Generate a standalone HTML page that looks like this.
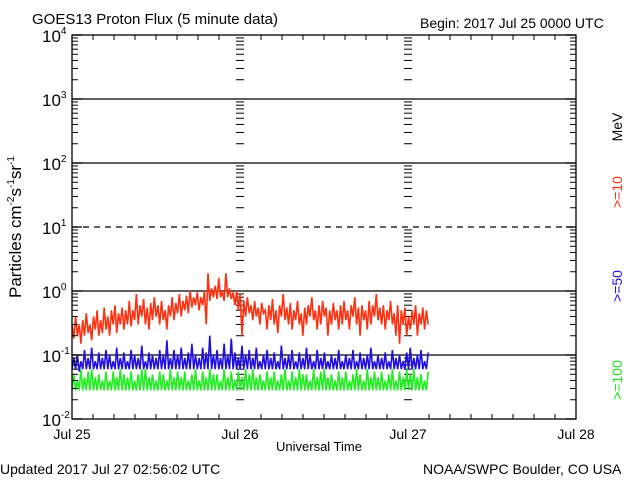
<!DOCTYPE html>
<html><head><meta charset="utf-8">
<style>
html,body{margin:0;padding:0;background:#fff;}
svg{display:block;font-family:"Liberation Sans",sans-serif;}
</style></head>
<body>
<svg id="chart" width="640" height="480" viewBox="0 0 640 480">
<text x="32" y="24" font-size="15">GOES13 Proton Flux (5 minute data)</text>
<text x="420" y="28" font-size="14">Begin: 2017 Jul 25 0000 UTC</text>
<text x="0" y="474" font-size="14">Updated 2017 Jul 27 02:56:02 UTC</text>
<text x="423" y="474" font-size="14">NOAA/SWPC Boulder, CO USA</text>
<text x="276" y="451" font-size="13">Universal Time</text>
<text transform="translate(21,227) rotate(-90)" text-anchor="middle" font-size="17">Particles cm<tspan font-size="10" dy="-7">-2</tspan><tspan dy="7">s</tspan><tspan font-size="10" dy="-7">-1</tspan><tspan dy="7">sr</tspan><tspan font-size="10" dy="-7">-1</tspan></text>
<text transform="translate(622,127) rotate(-90)" text-anchor="middle" font-size="14" fill="#000">MeV</text>
<text transform="translate(622,192) rotate(-90)" text-anchor="middle" font-size="14" fill="#ff3010">&gt;=10</text>
<text transform="translate(622,286) rotate(-90)" text-anchor="middle" font-size="14" fill="#2010e0">&gt;=50</text>
<text transform="translate(622,380) rotate(-90)" text-anchor="middle" font-size="14" fill="#20e020">&gt;=100</text>
<g id="grid"></g>
<g id="series"></g>
<g id="axes"></g>
</svg>
<script>
const dayLabels = ["Jul 25","Jul 26","Jul 27","Jul 28"];
const decades = [-2,-1,0,1,2,3,4];
const spanDays = 2.12;
const redVals = [0.3,0.18,0.4,0.2,0.3,0.15,0.35,0.2,0.45,0.22,0.3,0.17,0.4,0.25,0.5,0.2,0.35,0.22,0.55,0.25,0.4,0.2,0.5,0.3,0.6,0.22,0.45,0.3,0.55,0.25,
0.5,0.3,0.7,0.28,0.5,0.35,0.9,0.3,0.6,0.4,0.75,0.3,0.55,0.25,0.65,0.35,0.8,0.4,0.6,0.3,
0.7,0.35,0.5,0.25,0.6,0.4,0.8,0.35,0.65,0.45,0.9,0.4,0.7,0.5,0.85,0.45,1.0,0.55,0.8,0.6,0.95,0.5,0.8,0.6,1.0,0.3,1.9,0.7,1.1,0.8,
1.2,0.75,1.6,0.8,1.0,0.7,1.9,0.8,1.1,0.75,0.95,0.6,1.0,0.5,0.9,0.2,0.7,0.4,0.8,0.45,
0.6,0.35,0.7,0.4,0.55,0.3,0.65,0.45,0.5,0.25,0.6,0.35,0.75,0.3,0.5,0.22,0.6,0.4,0.9,0.35,0.55,0.3,0.65,0.25,0.5,0.35,0.7,0.3,0.45,0.2,
0.55,0.3,0.6,0.4,0.8,0.35,0.5,0.25,0.6,0.3,0.7,0.4,0.55,0.2,0.5,0.3,0.65,0.35,0.5,0.25,
0.6,0.3,0.7,0.35,0.5,0.25,0.6,0.4,0.8,0.3,0.55,0.2,0.6,0.35,0.5,0.25,0.7,0.3,0.6,0.4,0.9,0.35,0.55,0.3,0.6,0.25,0.5,0.35,0.7,0.3,
0.45,0.2,0.6,0.15,0.5,0.3,0.55,0.2,0.4,0.25,0.5,0.3,0.6,0.2,0.45,0.3,0.55,0.25,0.5,0.3];
const blueVals = [0.06,0.09,0.06,0.1,0.055,0.08,0.06,0.12,0.06,0.09,0.06,0.13,0.06,0.08,0.06,0.11,0.06,0.09,0.06,0.12,0.06,0.1,0.06,0.08,0.06,0.13,0.06,0.09,0.06,0.11,
0.06,0.08,0.06,0.12,0.06,0.1,0.06,0.09,0.06,0.14,0.06,0.08,0.06,0.11,0.06,0.1,0.06,0.09,0.06,0.12,
0.06,0.1,0.06,0.17,0.06,0.09,0.06,0.12,0.06,0.1,0.06,0.13,0.06,0.09,0.06,0.11,0.06,0.15,0.06,0.1,0.06,0.09,0.06,0.13,0.06,0.11,0.06,0.2,0.06,0.1,
0.06,0.12,0.06,0.09,0.06,0.15,0.06,0.1,0.06,0.18,0.06,0.11,0.06,0.09,0.06,0.14,0.06,0.1,0.06,0.12,
0.06,0.09,0.06,0.13,0.06,0.08,0.06,0.1,0.06,0.12,0.06,0.09,0.06,0.11,0.06,0.08,0.06,0.14,0.06,0.09,0.06,0.1,0.06,0.12,0.06,0.08,0.06,0.11,0.06,0.09,
0.06,0.13,0.06,0.1,0.06,0.08,0.06,0.12,0.06,0.09,0.06,0.11,0.06,0.08,0.06,0.1,0.06,0.09,0.06,0.12,
0.06,0.08,0.06,0.1,0.06,0.09,0.06,0.12,0.06,0.08,0.06,0.11,0.06,0.09,0.06,0.1,0.06,0.13,0.06,0.08,0.06,0.1,0.06,0.09,0.06,0.11,0.06,0.08,0.06,0.12,
0.06,0.09,0.06,0.1,0.06,0.08,0.06,0.11,0.06,0.13,0.06,0.09,0.06,0.1,0.06,0.12,0.06,0.08,0.06,0.11];
const greenVals = [0.028,0.05,0.028,0.04,0.028,0.06,0.028,0.045,0.028,0.055,
0.028,0.06,0.028,0.045,0.028,0.05,0.028,0.04,0.028,0.055,
0.028,0.04,0.028,0.055,0.028,0.045,0.028,0.06,0.028,0.05,
0.028,0.045,0.028,0.055,0.028,0.04,0.028,0.05,0.028,0.06,
0.028,0.06,0.028,0.045,0.028,0.05,0.028,0.04,0.028,0.055,
0.028,0.05,0.028,0.04,0.028,0.06,0.028,0.045,0.028,0.055,
0.028,0.045,0.028,0.055,0.028,0.04,0.028,0.05,0.028,0.06,
0.028,0.04,0.028,0.055,0.028,0.045,0.028,0.06,0.028,0.05,
0.028,0.05,0.028,0.04,0.028,0.06,0.028,0.045,0.028,0.055,
0.028,0.04,0.028,0.055,0.028,0.045,0.028,0.06,0.028,0.05,
0.028,0.06,0.028,0.045,0.028,0.05,0.028,0.04,0.028,0.055,
0.028,0.045,0.028,0.055,0.028,0.04,0.028,0.05,0.028,0.06,
0.028,0.04,0.028,0.055,0.028,0.045,0.028,0.06,0.028,0.05,
0.028,0.05,0.028,0.04,0.028,0.06,0.028,0.045,0.028,0.055,
0.028,0.06,0.028,0.045,0.028,0.05,0.028,0.04,0.028,0.055,
0.028,0.045,0.028,0.055,0.028,0.04,0.028,0.05,0.028,0.06,
0.028,0.05,0.028,0.04,0.028,0.06,0.028,0.045,0.028,0.055,
0.028,0.045,0.028,0.055,0.028,0.04,0.028,0.05,0.028,0.06,
0.028,0.04,0.028,0.055,0.028,0.045,0.028,0.06,0.028,0.05,
0.028,0.06,0.028,0.045,0.028,0.05,0.028,0.04,0.028,0.055];

const X0=72,X1=576,Y0=35,Y1=419;
const xs = d => X0 + d*(X1-X0)/3;
const ys = v => Y1 - (Math.log10(v)+2)*(Y1-Y0)/6;
const NS="http://www.w3.org/2000/svg";
function mk(tag, attrs, parent){const e=document.createElementNS(NS,tag);for(const k in attrs)e.setAttribute(k,attrs[k]);parent.appendChild(e);return e;}
const grid=document.getElementById('grid'), axes=document.getElementById('axes'), ser=document.getElementById('series');

decades.forEach(p=>{
  if(p===-2||p===4) return;
  const l=mk('line',{x1:X0,x2:X1,y1:ys(Math.pow(10,p)),y2:ys(Math.pow(10,p)),stroke:'#000','stroke-width':1.3,'stroke-dasharray':p===1?'6,5':''},grid);
  
  
});
[1,2].forEach(d=>{
  for(let p=-2;p<4;p++){
    for(let m=2;m<=9;m++){
      const y=ys(m*Math.pow(10,p));
      mk('line',{x1:xs(d)-4,x2:xs(d)+4,y1:y,y2:y,stroke:'#000','stroke-width':1},grid);
    }
  }
});
function drawSeries(vals,color,name){
  const n=vals.length; let pts=[];
  vals.forEach((v,i)=>{pts.push(xs(i*spanDays/(n-1)).toFixed(1)+','+ys(v).toFixed(1));});
  const pl=mk('polyline',{points:pts.join(' '),fill:'none',stroke:color,'stroke-width':1.6,'stroke-linejoin':'miter'},ser);
  
  
}
drawSeries(redVals,'#ff3010','series-ge10');
drawSeries(blueVals,'#2010e0','series-ge50');
drawSeries(greenVals,'#20ee20','series-ge100');

const fr=mk('rect',{x:X0,y:Y0,width:X1-X0,height:Y1-Y0,fill:'none',stroke:'#000','stroke-width':1.3},axes);


for(let p=-2;p<4;p++){
  for(let m=2;m<=9;m++){
    const y=ys(m*Math.pow(10,p));
    mk('line',{x1:X0,x2:X0+6,y1:y,y2:y,stroke:'#000','stroke-width':1},axes);
    mk('line',{x1:X1-6,x2:X1,y1:y,y2:y,stroke:'#000','stroke-width':1},axes);
  }
}
decades.forEach(p=>{
  const y=ys(Math.pow(10,p));
  mk('line',{x1:X0,x2:X0+10,y1:y,y2:y,stroke:'#000','stroke-width':1.3},axes);
  mk('line',{x1:X1-10,x2:X1,y1:y,y2:y,stroke:'#000','stroke-width':1.3},axes);
  const t=mk('text',{x:42,y:y+7,'font-size':17},axes);
  
  
  t.innerHTML='10<tspan font-size="10" dy="-8">'+p+'</tspan>';
});
for(let h=1;h<24;h++){
  const x=xs(h/8);
  if(h%8===0) continue;
  mk('line',{x1:x,x2:x,y1:Y1,y2:Y1-5,stroke:'#000','stroke-width':1},axes);
  mk('line',{x1:x,x2:x,y1:Y0,y2:Y0+5,stroke:'#000','stroke-width':1},axes);
}
dayLabels.forEach((lab,i)=>{
  const t=mk('text',{x:xs(i),y:439,'font-size':14,'text-anchor':'middle'},axes);
  
  
  t.textContent=lab;
});
</script>
</body></html>
